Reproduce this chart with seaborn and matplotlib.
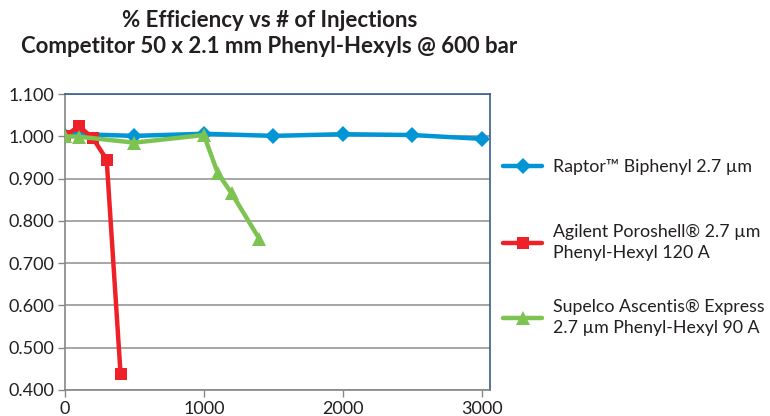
import numpy as np
import pandas as pd
import matplotlib
matplotlib.use("Agg")
import matplotlib.pyplot as plt
import seaborn as sns

# Efficiency vs number of injections, three phenyl-hexyl columns

raptor_inj = [0, 100, 500, 1000, 1500, 2000, 2500, 3000]
raptor_eff = [1.000, 1.005, 1.001, 1.006, 1.001, 1.005, 1.003, 0.994]

agilent_inj = [0, 100, 200, 300, 400]
agilent_eff = [1.000, 1.024, 0.996, 0.945, 0.438]

supelco_inj = [0, 100, 500, 1000, 1100, 1200, 1400]
supelco_eff = [1.000, 0.999, 0.985, 1.003, 0.913, 0.865, 0.757]

labels = [
    "Raptor\u2122 Biphenyl 2.7 \u00b5m",
    "Agilent Poroshell\u00ae 2.7 \u00b5m\nPhenyl-Hexyl 120 A",
    "Supelco Ascentis\u00ae Express\n2.7 \u00b5m Phenyl-Hexyl 90 A",
]
colors = ["#0096D6", "#EE2129", "#7DC352"]
markers = ["D", "s", "^"]

y_ticks = [0.4, 0.5, 0.6, 0.7, 0.8, 0.9, 1.0, 1.1]
x_ticks = [0, 1000, 2000, 3000]

sns.set_theme(style="white")
plt.rcParams["font.family"] = ["Lato", "DejaVu Sans"]

fig = plt.figure(figsize=(7.7, 4.16), dpi=100)
ax = fig.add_axes([0.0844, 0.0625, 0.5516, 0.7115])

series = [
    (raptor_inj, raptor_eff),
    (agilent_inj, agilent_eff),
    (supelco_inj, supelco_eff),
]
msizes = [8.5, 9, 9.5]
for (xs, ys), lab, col, mk, ms in zip(series, labels, colors, markers, msizes):
    df = pd.DataFrame({"injections": xs, "efficiency": ys})
    sns.lineplot(
        data=df,
        x="injections",
        y="efficiency",
        color=col,
        marker=mk,
        markersize=ms,
        markeredgewidth=0,
        linewidth=3.2,
        label=lab,
        ax=ax,
        zorder=3,
    )

ax.set_xlim(0, 3058)
ax.set_ylim(0.4, 1.1)
ax.set_yticks(y_ticks)
ax.set_yticklabels([f"{v:.3f}" for v in y_ticks], fontsize=13, color="#231F20")
ax.set_xticks(x_ticks)
ax.set_xticklabels([str(v) for v in x_ticks], fontsize=13, color="#231F20")
ax.set_xlabel("")
ax.set_ylabel("")

ax.yaxis.grid(True, color="#A6A6A6", linewidth=1.4)
ax.tick_params(axis="both", length=5, width=1, color="#868686", direction="out",
               left=True, bottom=True, pad=3)

for side in ["top", "right"]:
    ax.spines[side].set_color("#385D8A")
    ax.spines[side].set_linewidth(1.2)
for side in ["left", "bottom"]:
    ax.spines[side].set_color("#868686")
    ax.spines[side].set_linewidth(1.2)

# one legend per entry so each can sit where the reference has it
handles, labs = ax.get_legend_handles_labels()
ax.get_legend().remove()
legend_y = [167, 242.5, 317.5]
for h, l, yc in zip(handles, labs, legend_y):
    leg = fig.legend(
        [h], [l],
        loc="center left",
        bbox_to_anchor=(503 / 770, 1 - yc / 416),
        frameon=False,
        fontsize=12.8,
        borderpad=0,
        borderaxespad=0,
        handlelength=2.2,
        handletextpad=0.6,
        labelcolor="#231F20",
    )
    for t in leg.get_texts():
        t.set_linespacing(1.45)

fig.text(0.35, 0.92, "% Efficiency vs # of Injections\nCompetitor 50 x 2.1 mm Phenyl-Hexyls @ 600 bar",
         ha="center", va="center", fontsize=16, fontweight="bold",
         color="#231F20", linespacing=1.3)

plt.savefig("out.png", dpi=100)
